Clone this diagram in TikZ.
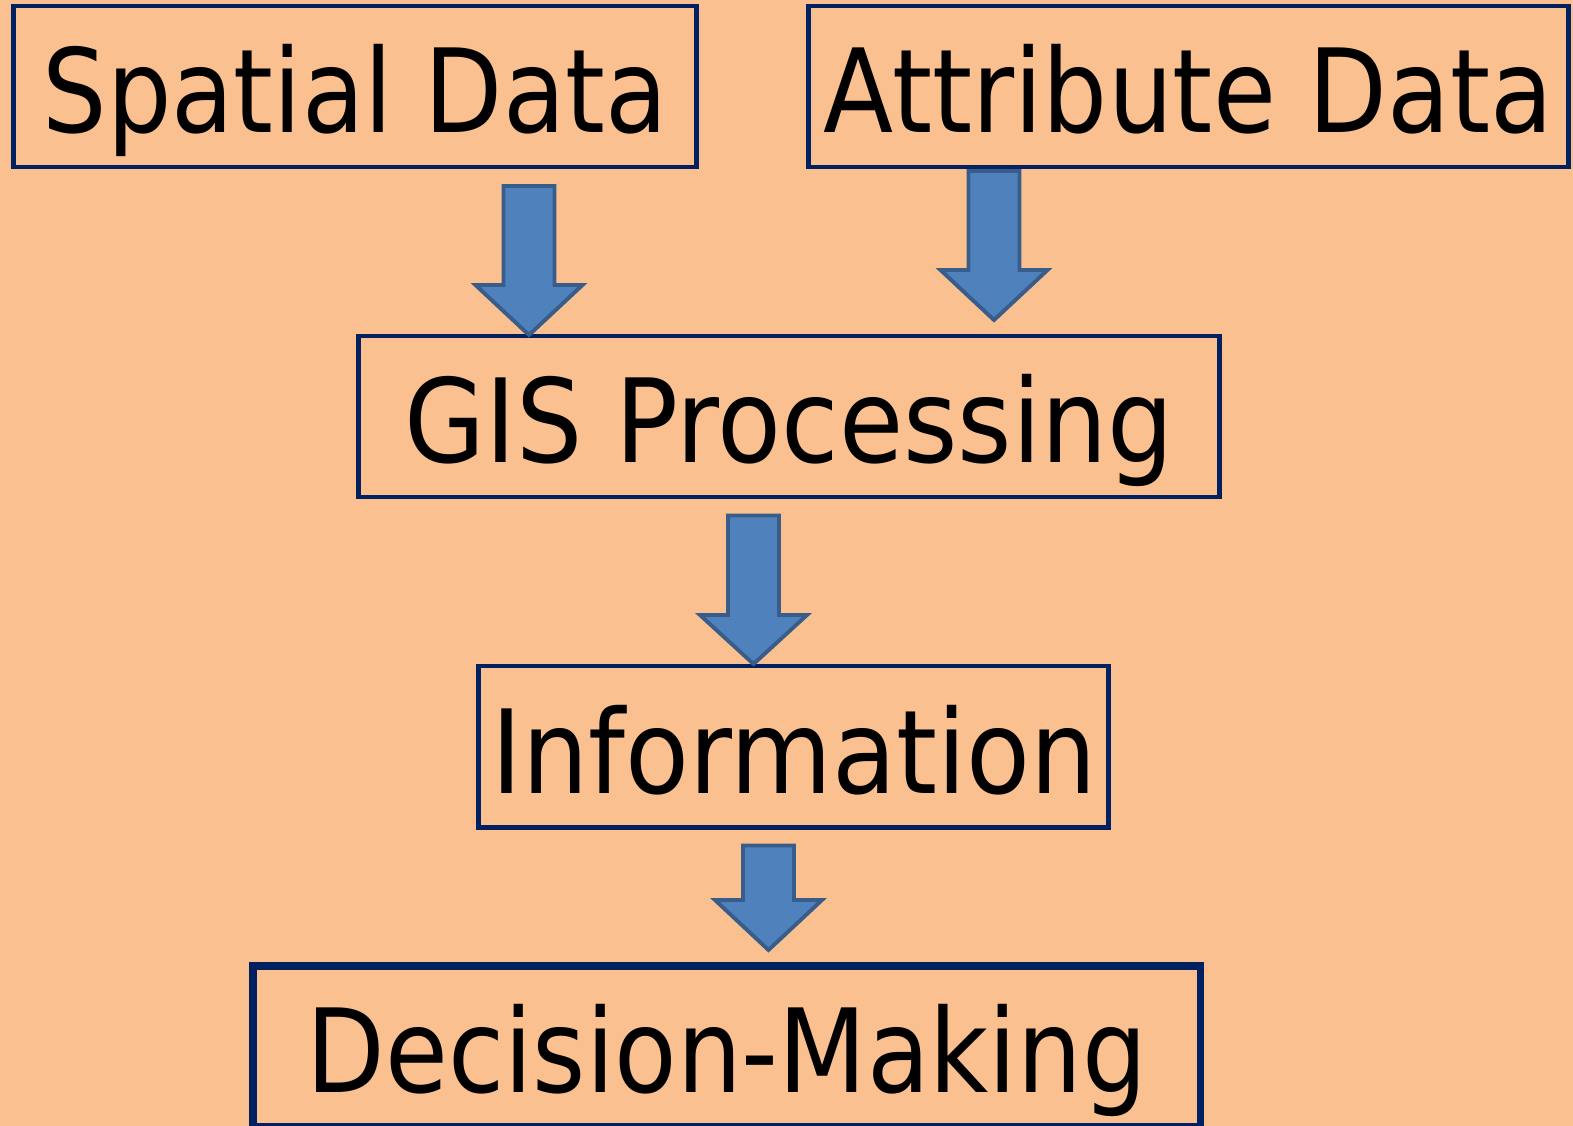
\documentclass[tikz,border=0pt]{standalone}
\usepackage{fontspec}
\setmainfont{DejaVu Sans}
\usepackage{graphicx}
\definecolor{bgorange}{HTML}{FAC090}
\definecolor{boxblue}{HTML}{002060}
\definecolor{arrowfill}{HTML}{4F81BD}
\definecolor{arrowline}{HTML}{385D8A}
\newcommand{\sq}[2]{\scalebox{#1}[1]{#2}}
\newcommand{\blockarrow}[4]{%
  \draw[blockarrow] (#1-25.5,#2) -- (#1+25.5,#2) -- (#1+25.5,#3) -- (#1+53.5,#3)
    -- (#1,#4) -- (#1-53.5,#3) -- (#1-25.5,#3) -- cycle;}
\begin{document}
\begin{tikzpicture}[x=0.02cm,y=-0.02cm,
  box/.style={draw=boxblue, line width=2.8pt, inner sep=0pt,
    text height=1.86cm, text depth=0pt, minimum height=3.22cm,
    font=\fontsize{66.1}{70}\selectfont},
  blockarrow/.style={fill=arrowfill, draw=arrowline, line width=2.2pt, line join=miter}]
\fill[bgorange] (0,0) rectangle (1573,1126);
\useasboundingbox (0,0) rectangle (1573,1126);

\node[box, minimum width=13.68cm] (sp) at (355,86.5) {\sq{0.875}{Spatial Data}};
\node[box, minimum width=15.22cm] (at) at (1188.5,86.5) {\sq{0.882}{Attribute Data}};
\node[box, minimum width=17.24cm] (gis) at (789,416.5) {\sq{0.90}{GIS Processing}};
\node[box, minimum width=12.61cm, minimum height=3.23cm] (info) at (793.75,746.75) {\sq{0.90}{Information}};
\node[box, line width=4.2pt, minimum width=18.95cm, minimum height=3.21cm] (dm) at (726.75,1046.25) {\sq{0.88}{Decision-Making}};

\blockarrow{529}{186}{285}{335}
\blockarrow{994}{171}{270}{320}
\blockarrow{753.5}{515.5}{615}{664}
\blockarrow{768.5}{845.5}{900}{950}
\end{tikzpicture}
\end{document}
